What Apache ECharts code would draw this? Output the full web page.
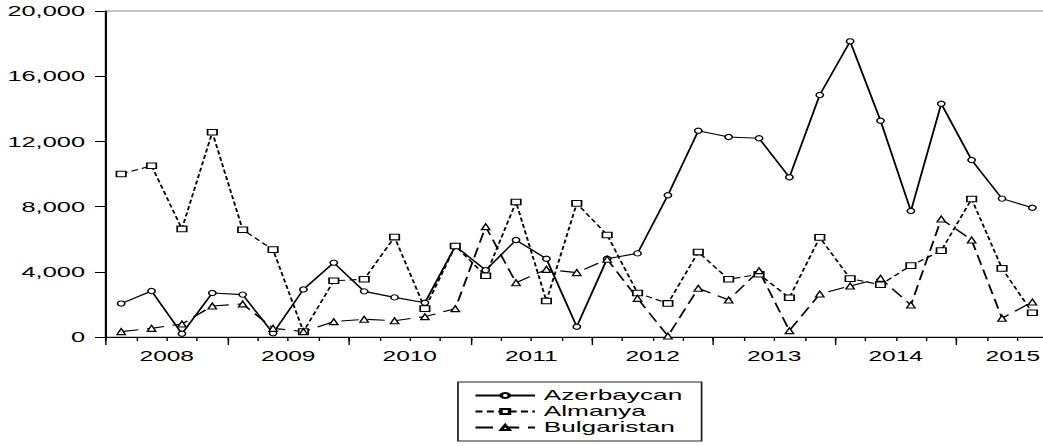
<!DOCTYPE html>
<html><head><meta charset="utf-8">
<script src="https://cdn.jsdelivr.net/npm/echarts@6/dist/echarts.min.js"></script>
<style>
html,body{margin:0;padding:0;background:#fff;overflow:hidden;}
#wrap{width:1043px;height:446px;overflow:hidden;position:relative;background:#fff;}
#c{width:596px;height:446px;transform:scaleX(1.75);transform-origin:0 0;position:absolute;left:0;top:0;}
</style></head><body><div id="wrap"><div id="c"></div></div>
<script>
// Quarterly categories 2008Q1 .. 2015Q4 (last quarter has no data)
const quarters = ['2008Q1','2008Q2','2008Q3','2008Q4','2009Q1','2009Q2','2009Q3','2009Q4',
  '2010Q1','2010Q2','2010Q3','2010Q4','2011Q1','2011Q2','2011Q3','2011Q4',
  '2012Q1','2012Q2','2012Q3','2012Q4','2013Q1','2013Q2','2013Q3','2013Q4',
  '2014Q1','2014Q2','2014Q3','2014Q4','2015Q1','2015Q2','2015Q3','2015Q4'];
const yearLabels = ['2008','2009','2010','2011','2012','2013','2014','2015'];
const seriesNames = ['Azerbaycan','Almanya','Bulgaristan'];
const azerbaycan = [2050, 2820, 200, 2700, 2600, 230, 2920, 4560, 2800, 2430, 2100, 5580, 4100, 5950, 4800, 630,
  4800, 5130, 8700, 12650, 12270, 12190, 9800, 14850, 18140, 13270, 7730, 14310, 10860, 8490, 7930];
const almanya = [10000, 10510, 6630, 12560, 6580, 5360, 330, 3450, 3540, 6130, 1740, 5580, 3760, 8280, 2210, 8200,
  6260, 2700, 2060, 5210, 3540, 3850, 2410, 6110, 3580, 3210, 4380, 5300, 8470, 4210, 1490];
const bulgaristan = [330, 530, 800, 1900, 2030, 530, 330, 940, 1090, 1000, 1250, 1740, 6770, 3330, 4150, 3950,
  4770, 2370, 60, 2990, 2270, 4070, 390, 2640, 3130, 3600, 1960, 7240, 5950, 1150, 2150];
const yMin = 0, yMax = 20000, yStep = 4000;

const FONT = "'Liberation Sans', Arial, sans-serif";
const chart = echarts.init(document.getElementById('c'), null, {renderer: 'svg'});
const fmt = v => String(v).replace(/\B(?=(\d{3})+(?!\d))/g, ',');
const qW = 972 / 1.75 / 32;

function lineSeries(name, data, dash, symbol, size, width) {
  return {
    name: name, type: 'line', data: data, xAxisIndex: 0, yAxisIndex: 0,
    symbol: symbol, symbolSize: size, showSymbol: true,
    lineStyle: {color: '#000', width: width, type: dash},
    itemStyle: {color: '#fff', borderColor: '#000', borderWidth: 1},
    emphasis: {disabled: true}, animation: false, z: 3
  };
}

chart.setOption({
  animation: false,
  backgroundColor: '#fff',
  grid: {left: 60.57, top: 11, right: -19.97, bottom: 109, show: true,
    containLabel: false, outerBoundsMode: 'none',
    borderColor: '#8a8a8a', borderWidth: 1.2, backgroundColor: 'transparent'},
  legend: {
    data: seriesNames, orient: 'vertical', left: 261.7, top: 382,
    padding: [6, 11, 6, 9], itemGap: 1, itemWidth: 34, itemHeight: 6,
    borderColor: '#222', borderWidth: 1, backgroundColor: '#fff',
    textStyle: {fontSize: 15, color: '#000', fontFamily: FONT},
    selectedMode: false
  },
  xAxis: [{
    type: 'category', data: quarters, boundaryGap: true, position: 'bottom',
    axisLine: {show: true, lineStyle: {color: '#000', width: 1.2}},
    axisTick: {show: true, interval: 0, length: 4, lineStyle: {color: '#000', width: 0.8}},
    axisLabel: {
      interval: (i) => i % 4 === 1,
      formatter: (v, i) => (i >= 28 ? '{e|' : '{n|') + yearLabels[Math.floor(i / 4)] + '}',
      rich: {
        n: {padding: [0, 0, 0, qW], fontSize: 14, color: '#000', fontFamily: FONT},
        e: {padding: [0, 0, 0, qW - 5], fontSize: 14, color: '#000', fontFamily: FONT}
      },
      fontSize: 14, color: '#000', fontFamily: FONT, margin: 12
    },
    splitLine: {show: false}
  }, {
    type: 'value', min: 0, max: 32, interval: 4, position: 'bottom', gridIndex: 0,
    axisLine: {show: false},
    axisTick: {show: true, length: 8, lineStyle: {color: '#000', width: 0.8}},
    axisLabel: {show: false}, splitLine: {show: false}
  }],
  yAxis: {
    type: 'value', min: yMin, max: yMax, interval: yStep,
    axisLine: {show: true, lineStyle: {color: '#000', width: 1.2}},
    axisTick: {show: true, length: 6.3, lineStyle: {color: '#000', width: 1}},
    axisLabel: {formatter: fmt, fontSize: 14.5, color: '#000', fontFamily: FONT, margin: 12},
    splitLine: {show: false}
  },
  series: [
    lineSeries(seriesNames[0], azerbaycan, 'solid', 'circle', [4.2, 5.2], 1.1),
    lineSeries(seriesNames[1], almanya, [4, 2.5], 'rect', [5.4, 5.6], 1.1),
    lineSeries(seriesNames[2], bulgaristan, [10, 5], 'triangle', [4.8, 6], 1.1)
  ]
});
</script></body></html>
